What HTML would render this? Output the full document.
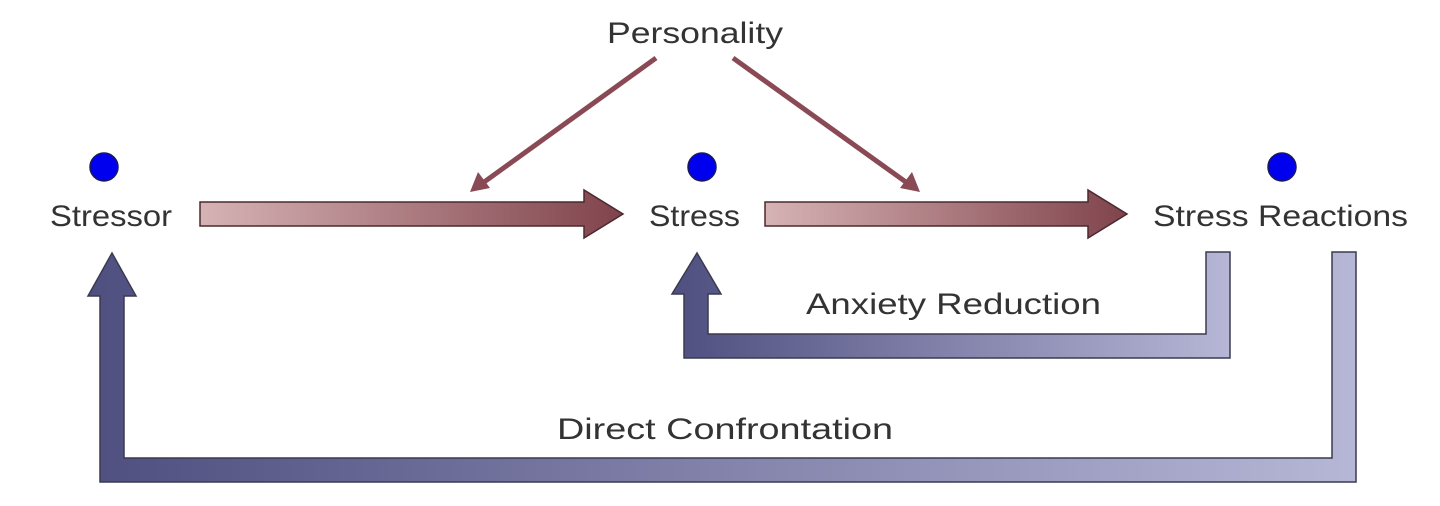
<!DOCTYPE html>
<html><head><meta charset="utf-8"><style>
html,body{margin:0;padding:0;background:#fff;}
svg{display:block;}
text{font-family:"Liberation Sans",sans-serif;fill:#333;font-size:30px;}
</style></head><body>
<svg width="1440" height="506" viewBox="0 0 1440 506" xmlns="http://www.w3.org/2000/svg">
<defs>
<linearGradient id="r1" gradientUnits="userSpaceOnUse" x1="200" y1="0" x2="623" y2="0">
<stop offset="0" stop-color="#d6b3b5"/><stop offset="1" stop-color="#80434c"/></linearGradient>
<linearGradient id="r2" gradientUnits="userSpaceOnUse" x1="765" y1="0" x2="1127" y2="0">
<stop offset="0" stop-color="#d6b3b5"/><stop offset="1" stop-color="#80434c"/></linearGradient>
<linearGradient id="b1" gradientUnits="userSpaceOnUse" x1="88" y1="0" x2="1356" y2="0">
<stop offset="0" stop-color="#4f4f80"/><stop offset="1" stop-color="#b6b6d6"/></linearGradient>
<linearGradient id="b2" gradientUnits="userSpaceOnUse" x1="672" y1="0" x2="1230" y2="0">
<stop offset="0" stop-color="#4f4f80"/><stop offset="1" stop-color="#b6b6d6"/></linearGradient>
</defs>
<circle cx="104" cy="167" r="14" fill="#0000ee" stroke="#1a1a5a" stroke-width="1.5"/>
<circle cx="702" cy="167" r="14" fill="#0000ee" stroke="#1a1a5a" stroke-width="1.5"/>
<circle cx="1282" cy="167" r="14" fill="#0000ee" stroke="#1a1a5a" stroke-width="1.5"/>
<text x="607" y="43" textLength="176" lengthAdjust="spacingAndGlyphs">Personality</text>
<text x="50" y="226" textLength="122" lengthAdjust="spacingAndGlyphs">Stressor</text>
<text x="649" y="226" textLength="91" lengthAdjust="spacingAndGlyphs">Stress</text>
<text x="1153" y="226" textLength="255" lengthAdjust="spacingAndGlyphs">Stress Reactions</text>
<text x="806" y="314" textLength="295" lengthAdjust="spacingAndGlyphs">Anxiety Reduction</text>
<text x="557" y="439" textLength="336" lengthAdjust="spacingAndGlyphs">Direct Confrontation</text>
<path d="M200 202 H584 V190 L623 214 L584 238 V226 H200 Z" fill="url(#r1)" stroke="#4a2a2e" stroke-width="1.5"/>
<path d="M765 202 H1088 V190 L1127 214 L1088 238 V226 H765 Z" fill="url(#r2)" stroke="#4a2a2e" stroke-width="1.5"/>
<g stroke="#8a4a55" stroke-width="5" fill="none">
<line x1="656" y1="58" x2="480" y2="185"/>
<line x1="733" y1="58" x2="910" y2="185"/>
</g>
<path d="M470 192 L478 172 L490 188 Z" fill="#8a4a55"/>
<path d="M920 192 L900 188 L912 172 Z" fill="#8a4a55"/>
<path d="M112 253 L136 296 H124 V458 H1332 V252 H1356 V482 H100 V296 H88 Z" fill="url(#b1)" stroke="#3a3a50" stroke-width="1.5"/>
<path d="M697 253 L721 294 H708 V334 H1206 V252 H1230 V358 H684 V294 H672 Z" fill="url(#b2)" stroke="#3a3a50" stroke-width="1.5"/>
</svg>
</body></html>
